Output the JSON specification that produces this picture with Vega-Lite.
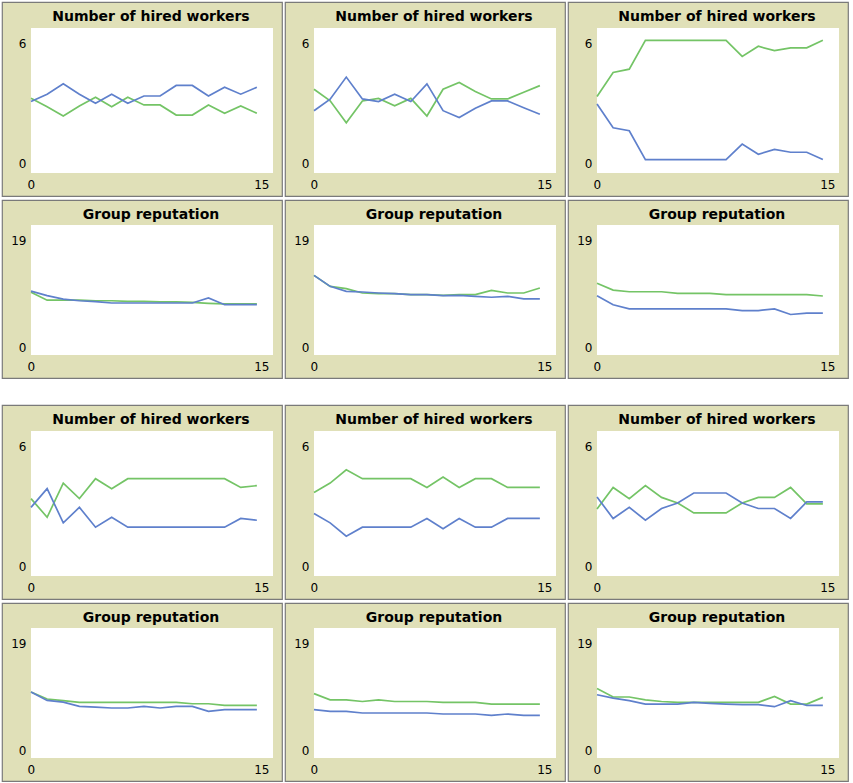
{
"$schema":"https://vega.github.io/schema/vega-lite/v6.json",
"background":"white",
"padding":{"left":1,"top":1,"right":0,"bottom":0},
"datasets":{"d":[
{"p":1,"t":0,"b":2.92,"g":3.09},{"p":1,"t":1,"b":3.29,"g":2.66},{"p":1,"t":2,"b":3.81,"g":2.19},{"p":1,"t":3,"b":3.29,"g":2.7},{"p":1,"t":4,"b":2.83,"g":3.14},{"p":1,"t":5,"b":3.29,"g":2.66},{"p":1,"t":6,"b":2.83,"g":3.14},{"p":1,"t":7,"b":3.2,"g":2.75},{"p":1,"t":8,"b":3.2,"g":2.75},{"p":1,"t":9,"b":3.73,"g":2.24},{"p":1,"t":10,"b":3.73,"g":2.24},{"p":1,"t":11,"b":3.2,"g":2.75},{"p":1,"t":12,"b":3.64,"g":2.33},{"p":1,"t":13,"b":3.29,"g":2.7},{"p":1,"t":14,"b":3.64,"g":2.33},
{"p":2,"t":0,"b":2.46,"g":3.54},{"p":2,"t":1,"b":3.04,"g":2.96},{"p":2,"t":2,"b":4.15,"g":1.85},{"p":2,"t":3,"b":3.05,"g":2.95},{"p":2,"t":4,"b":2.92,"g":3.08},{"p":2,"t":5,"b":3.29,"g":2.71},{"p":2,"t":6,"b":2.92,"g":3.08},{"p":2,"t":7,"b":3.81,"g":2.19},{"p":2,"t":8,"b":2.46,"g":3.54},{"p":2,"t":9,"b":2.12,"g":3.88},{"p":2,"t":10,"b":2.58,"g":3.42},{"p":2,"t":11,"b":2.95,"g":3.05},{"p":2,"t":12,"b":2.95,"g":3.05},{"p":2,"t":13,"b":2.61,"g":3.39},{"p":2,"t":14,"b":2.28,"g":3.72},
{"p":3,"t":0,"b":2.8,"g":3.17},{"p":3,"t":1,"b":1.6,"g":4.38},{"p":3,"t":2,"b":1.45,"g":4.55},{"p":3,"t":3,"b":0,"g":6},{"p":3,"t":4,"b":0,"g":6},{"p":3,"t":5,"b":0,"g":6},{"p":3,"t":6,"b":0,"g":6},{"p":3,"t":7,"b":0,"g":6},{"p":3,"t":8,"b":0,"g":6},{"p":3,"t":9,"b":0.78,"g":5.19},{"p":3,"t":10,"b":0.27,"g":5.7},{"p":3,"t":11,"b":0.51,"g":5.48},{"p":3,"t":12,"b":0.37,"g":5.62},{"p":3,"t":13,"b":0.37,"g":5.62},{"p":3,"t":14,"b":0,"g":6},
{"p":4,"t":0,"b":9.2,"g":9.0},{"p":4,"t":1,"b":8.4,"g":7.6},{"p":4,"t":2,"b":7.8,"g":7.6},{"p":4,"t":3,"b":7.5,"g":7.6},{"p":4,"t":4,"b":7.35,"g":7.5},{"p":4,"t":5,"b":7.1,"g":7.5},{"p":4,"t":6,"b":7.1,"g":7.4},{"p":4,"t":7,"b":7.1,"g":7.4},{"p":4,"t":8,"b":7.1,"g":7.3},{"p":4,"t":9,"b":7.1,"g":7.3},{"p":4,"t":10,"b":7.1,"g":7.2},{"p":4,"t":11,"b":8.0,"g":7.05},{"p":4,"t":12,"b":6.8,"g":6.95},{"p":4,"t":13,"b":6.8,"g":6.95},{"p":4,"t":14,"b":6.8,"g":6.95},
{"p":5,"t":0,"b":12.0,"g":12.0},{"p":5,"t":1,"b":10.06,"g":10.06},{"p":5,"t":2,"b":9.18,"g":9.65},{"p":5,"t":3,"b":9.06,"g":8.88},{"p":5,"t":4,"b":8.88,"g":8.76},{"p":5,"t":5,"b":8.76,"g":8.76},{"p":5,"t":6,"b":8.59,"g":8.59},{"p":5,"t":7,"b":8.59,"g":8.59},{"p":5,"t":8,"b":8.41,"g":8.47},{"p":5,"t":9,"b":8.47,"g":8.59},{"p":5,"t":10,"b":8.29,"g":8.59},{"p":5,"t":11,"b":8.12,"g":9.35},{"p":5,"t":12,"b":8.29,"g":8.88},{"p":5,"t":13,"b":7.82,"g":8.88},{"p":5,"t":14,"b":7.82,"g":9.76},
{"p":6,"t":0,"b":8.4,"g":10.6},{"p":6,"t":1,"b":6.8,"g":9.4},{"p":6,"t":2,"b":6.06,"g":9.1},{"p":6,"t":3,"b":6.06,"g":9.1},{"p":6,"t":4,"b":6.06,"g":9.1},{"p":6,"t":5,"b":6.06,"g":8.8},{"p":6,"t":6,"b":6.06,"g":8.8},{"p":6,"t":7,"b":6.06,"g":8.8},{"p":6,"t":8,"b":6.06,"g":8.6},{"p":6,"t":9,"b":5.76,"g":8.6},{"p":6,"t":10,"b":5.76,"g":8.6},{"p":6,"t":11,"b":6.06,"g":8.6},{"p":6,"t":12,"b":5.06,"g":8.6},{"p":6,"t":13,"b":5.3,"g":8.6},{"p":6,"t":14,"b":5.3,"g":8.35},
{"p":7,"t":0,"b":2.78,"g":3.22},{"p":7,"t":1,"b":3.72,"g":2.28},{"p":7,"t":2,"b":2.0,"g":4.0},{"p":7,"t":3,"b":2.78,"g":3.22},{"p":7,"t":4,"b":1.78,"g":4.22},{"p":7,"t":5,"b":2.28,"g":3.72},{"p":7,"t":6,"b":1.78,"g":4.22},{"p":7,"t":7,"b":1.78,"g":4.22},{"p":7,"t":8,"b":1.78,"g":4.22},{"p":7,"t":9,"b":1.78,"g":4.22},{"p":7,"t":10,"b":1.78,"g":4.22},{"p":7,"t":11,"b":1.78,"g":4.22},{"p":7,"t":12,"b":1.78,"g":4.22},{"p":7,"t":13,"b":2.22,"g":3.78},{"p":7,"t":14,"b":2.13,"g":3.87},
{"p":8,"t":0,"b":2.47,"g":3.53},{"p":8,"t":1,"b":2.0,"g":4.0},{"p":8,"t":2,"b":1.33,"g":4.67},{"p":8,"t":3,"b":1.78,"g":4.22},{"p":8,"t":4,"b":1.78,"g":4.22},{"p":8,"t":5,"b":1.78,"g":4.22},{"p":8,"t":6,"b":1.78,"g":4.22},{"p":8,"t":7,"b":2.22,"g":3.78},{"p":8,"t":8,"b":1.7,"g":4.3},{"p":8,"t":9,"b":2.22,"g":3.78},{"p":8,"t":10,"b":1.78,"g":4.22},{"p":8,"t":11,"b":1.78,"g":4.22},{"p":8,"t":12,"b":2.22,"g":3.78},{"p":8,"t":13,"b":2.22,"g":3.78},{"p":8,"t":14,"b":2.22,"g":3.78},
{"p":9,"t":0,"b":3.3,"g":2.7},{"p":9,"t":1,"b":2.22,"g":3.78},{"p":9,"t":2,"b":2.78,"g":3.22},{"p":9,"t":3,"b":2.13,"g":3.87},{"p":9,"t":4,"b":2.72,"g":3.28},{"p":9,"t":5,"b":3.0,"g":3.0},{"p":9,"t":6,"b":3.5,"g":2.5},{"p":9,"t":7,"b":3.5,"g":2.5},{"p":9,"t":8,"b":3.5,"g":2.5},{"p":9,"t":9,"b":3.0,"g":3.0},{"p":9,"t":10,"b":2.72,"g":3.28},{"p":9,"t":11,"b":2.72,"g":3.28},{"p":9,"t":12,"b":2.22,"g":3.78},{"p":9,"t":13,"b":3.05,"g":2.95},{"p":9,"t":14,"b":3.05,"g":2.95},
{"p":10,"t":0,"b":9.6,"g":9.6},{"p":10,"t":1,"b":8.1,"g":8.35},{"p":10,"t":2,"b":7.8,"g":8.05},{"p":10,"t":3,"b":7.04,"g":7.75},{"p":10,"t":4,"b":6.9,"g":7.75},{"p":10,"t":5,"b":6.75,"g":7.75},{"p":10,"t":6,"b":6.75,"g":7.75},{"p":10,"t":7,"b":7.04,"g":7.75},{"p":10,"t":8,"b":6.75,"g":7.75},{"p":10,"t":9,"b":7.04,"g":7.75},{"p":10,"t":10,"b":7.04,"g":7.5},{"p":10,"t":11,"b":6.15,"g":7.5},{"p":10,"t":12,"b":6.45,"g":7.2},{"p":10,"t":13,"b":6.45,"g":7.2},{"p":10,"t":14,"b":6.45,"g":7.2},
{"p":11,"t":0,"b":6.45,"g":9.3},{"p":11,"t":1,"b":6.15,"g":8.2},{"p":11,"t":2,"b":6.15,"g":8.2},{"p":11,"t":3,"b":5.86,"g":7.9},{"p":11,"t":4,"b":5.86,"g":8.2},{"p":11,"t":5,"b":5.86,"g":7.9},{"p":11,"t":6,"b":5.86,"g":7.9},{"p":11,"t":7,"b":5.86,"g":7.9},{"p":11,"t":8,"b":5.68,"g":7.75},{"p":11,"t":9,"b":5.68,"g":7.75},{"p":11,"t":10,"b":5.68,"g":7.75},{"p":11,"t":11,"b":5.44,"g":7.45},{"p":11,"t":12,"b":5.68,"g":7.45},{"p":11,"t":13,"b":5.44,"g":7.45},{"p":11,"t":14,"b":5.44,"g":7.45},
{"p":12,"t":0,"b":9.1,"g":10.2},{"p":12,"t":1,"b":8.5,"g":8.7},{"p":12,"t":2,"b":8.05,"g":8.7},{"p":12,"t":3,"b":7.45,"g":8.2},{"p":12,"t":4,"b":7.45,"g":7.9},{"p":12,"t":5,"b":7.45,"g":7.75},{"p":12,"t":6,"b":7.75,"g":7.75},{"p":12,"t":7,"b":7.57,"g":7.75},{"p":12,"t":8,"b":7.45,"g":7.75},{"p":12,"t":9,"b":7.34,"g":7.75},{"p":12,"t":10,"b":7.34,"g":7.75},{"p":12,"t":11,"b":6.98,"g":8.8},{"p":12,"t":12,"b":8.05,"g":7.45},{"p":12,"t":13,"b":7.2,"g":7.45},{"p":12,"t":14,"b":7.2,"g":8.64}
]},
"vconcat":[
{"vconcat":[
 {"hconcat":[
  {"width":280,"height":194,"title":"Number of hired workers","layer":[
   {"data":{"values":[{}]},"mark":{"type":"rect","fill":"white"},"encoding":{"x":{"datum":0,"type":"quantitative","scale":{"domain":[-1.7975,15.558],"nice":false,"zero":false},"axis":{"values":[0,15],"title":null}},"x2":{"datum":15},"y":{"datum":-0.674,"type":"quantitative","scale":{"domain":[-1.831,7.927],"nice":false,"zero":false},"axis":{"values":[0,6],"title":null,"labelOffset":3.5}},"y2":{"datum":6.619}}},
   {"data":{"name":"d"},"transform":[{"filter":"datum.p==1"},{"fold":["g","b"],"as":["s","v"]}],"mark":{"type":"line","strokeWidth":1.7},"encoding":{"x":{"field":"t","type":"quantitative","scale":{"domain":[-1.7975,15.558],"nice":false,"zero":false},"axis":{"values":[0,15],"title":null}},"y":{"field":"v","type":"quantitative","scale":{"domain":[-1.831,7.927],"nice":false,"zero":false},"axis":{"values":[0,6],"title":null,"labelOffset":3.5}},"color":{"field":"s","type":"nominal","scale":{"domain":["g","b"],"range":["#74C466","#5F80CC"]},"legend":null}}}
  ]},
  {"width":280,"height":194,"title":"Number of hired workers","layer":[
   {"data":{"values":[{}]},"mark":{"type":"rect","fill":"white"},"encoding":{"x":{"datum":0,"type":"quantitative","scale":{"domain":[-1.7975,15.558],"nice":false,"zero":false},"axis":{"values":[0,15],"title":null}},"x2":{"datum":15},"y":{"datum":-0.674,"type":"quantitative","scale":{"domain":[-1.831,7.927],"nice":false,"zero":false},"axis":{"values":[0,6],"title":null,"labelOffset":3.5}},"y2":{"datum":6.619}}},
   {"data":{"name":"d"},"transform":[{"filter":"datum.p==2"},{"fold":["g","b"],"as":["s","v"]}],"mark":{"type":"line","strokeWidth":1.7},"encoding":{"x":{"field":"t","type":"quantitative","scale":{"domain":[-1.7975,15.558],"nice":false,"zero":false},"axis":{"values":[0,15],"title":null}},"y":{"field":"v","type":"quantitative","scale":{"domain":[-1.831,7.927],"nice":false,"zero":false},"axis":{"values":[0,6],"title":null,"labelOffset":3.5}},"color":{"field":"s","type":"nominal","scale":{"domain":["g","b"],"range":["#74C466","#5F80CC"]},"legend":null}}}
  ]},
  {"width":280,"height":194,"title":"Number of hired workers","layer":[
   {"data":{"values":[{}]},"mark":{"type":"rect","fill":"white"},"encoding":{"x":{"datum":0,"type":"quantitative","scale":{"domain":[-1.7975,15.558],"nice":false,"zero":false},"axis":{"values":[0,15],"title":null}},"x2":{"datum":15},"y":{"datum":-0.674,"type":"quantitative","scale":{"domain":[-1.831,7.927],"nice":false,"zero":false},"axis":{"values":[0,6],"title":null,"labelOffset":3.5}},"y2":{"datum":6.619}}},
   {"data":{"name":"d"},"transform":[{"filter":"datum.p==3"},{"fold":["g","b"],"as":["s","v"]}],"mark":{"type":"line","strokeWidth":1.7},"encoding":{"x":{"field":"t","type":"quantitative","scale":{"domain":[-1.7975,15.558],"nice":false,"zero":false},"axis":{"values":[0,15],"title":null}},"y":{"field":"v","type":"quantitative","scale":{"domain":[-1.831,7.927],"nice":false,"zero":false},"axis":{"values":[0,6],"title":null,"labelOffset":3.5}},"color":{"field":"s","type":"nominal","scale":{"domain":["g","b"],"range":["#74C466","#5F80CC"]},"legend":null}}}
  ]}
 ],"spacing":1},
 {"hconcat":[
  {"width":280,"height":178,"title":"Group reputation","layer":[
   {"data":{"values":[{}]},"mark":{"type":"rect","fill":"white"},"encoding":{"x":{"datum":0,"type":"quantitative","scale":{"domain":[-1.7975,15.558],"nice":false,"zero":false},"axis":{"values":[0,15],"title":null}},"x2":{"datum":15},"y":{"datum":-2.131,"type":"quantitative","scale":{"domain":[-6.215,25.392],"nice":false,"zero":false},"axis":{"values":[0,19],"title":null,"labelOffset":5}},"y2":{"datum":20.953}}},
   {"data":{"name":"d"},"transform":[{"filter":"datum.p==4"},{"fold":["g","b"],"as":["s","v"]}],"mark":{"type":"line","strokeWidth":1.7},"encoding":{"x":{"field":"t","type":"quantitative","scale":{"domain":[-1.7975,15.558],"nice":false,"zero":false},"axis":{"values":[0,15],"title":null}},"y":{"field":"v","type":"quantitative","scale":{"domain":[-6.215,25.392],"nice":false,"zero":false},"axis":{"values":[0,19],"title":null,"labelOffset":5}},"color":{"field":"s","type":"nominal","scale":{"domain":["g","b"],"range":["#74C466","#5F80CC"]},"legend":null}}}
  ]},
  {"width":280,"height":178,"title":"Group reputation","layer":[
   {"data":{"values":[{}]},"mark":{"type":"rect","fill":"white"},"encoding":{"x":{"datum":0,"type":"quantitative","scale":{"domain":[-1.7975,15.558],"nice":false,"zero":false},"axis":{"values":[0,15],"title":null}},"x2":{"datum":15},"y":{"datum":-2.131,"type":"quantitative","scale":{"domain":[-6.215,25.392],"nice":false,"zero":false},"axis":{"values":[0,19],"title":null,"labelOffset":5}},"y2":{"datum":20.953}}},
   {"data":{"name":"d"},"transform":[{"filter":"datum.p==5"},{"fold":["g","b"],"as":["s","v"]}],"mark":{"type":"line","strokeWidth":1.7},"encoding":{"x":{"field":"t","type":"quantitative","scale":{"domain":[-1.7975,15.558],"nice":false,"zero":false},"axis":{"values":[0,15],"title":null}},"y":{"field":"v","type":"quantitative","scale":{"domain":[-6.215,25.392],"nice":false,"zero":false},"axis":{"values":[0,19],"title":null,"labelOffset":5}},"color":{"field":"s","type":"nominal","scale":{"domain":["g","b"],"range":["#74C466","#5F80CC"]},"legend":null}}}
  ]},
  {"width":280,"height":178,"title":"Group reputation","layer":[
   {"data":{"values":[{}]},"mark":{"type":"rect","fill":"white"},"encoding":{"x":{"datum":0,"type":"quantitative","scale":{"domain":[-1.7975,15.558],"nice":false,"zero":false},"axis":{"values":[0,15],"title":null}},"x2":{"datum":15},"y":{"datum":-2.131,"type":"quantitative","scale":{"domain":[-6.215,25.392],"nice":false,"zero":false},"axis":{"values":[0,19],"title":null,"labelOffset":5}},"y2":{"datum":20.953}}},
   {"data":{"name":"d"},"transform":[{"filter":"datum.p==6"},{"fold":["g","b"],"as":["s","v"]}],"mark":{"type":"line","strokeWidth":1.7},"encoding":{"x":{"field":"t","type":"quantitative","scale":{"domain":[-1.7975,15.558],"nice":false,"zero":false},"axis":{"values":[0,15],"title":null}},"y":{"field":"v","type":"quantitative","scale":{"domain":[-6.215,25.392],"nice":false,"zero":false},"axis":{"values":[0,19],"title":null,"labelOffset":5}},"color":{"field":"s","type":"nominal","scale":{"domain":["g","b"],"range":["#74C466","#5F80CC"]},"legend":null}}}
  ]}
 ],"spacing":1}
],"spacing":2},
{"vconcat":[
 {"hconcat":[
  {"width":280,"height":194,"title":"Number of hired workers","layer":[
   {"data":{"values":[{}]},"mark":{"type":"rect","fill":"white"},"encoding":{"x":{"datum":0,"type":"quantitative","scale":{"domain":[-1.7975,15.558],"nice":false,"zero":false},"axis":{"values":[0,15],"title":null}},"x2":{"datum":15},"y":{"datum":-0.674,"type":"quantitative","scale":{"domain":[-1.831,7.927],"nice":false,"zero":false},"axis":{"values":[0,6],"title":null,"labelOffset":3.5}},"y2":{"datum":6.619}}},
   {"data":{"name":"d"},"transform":[{"filter":"datum.p==7"},{"fold":["g","b"],"as":["s","v"]}],"mark":{"type":"line","strokeWidth":1.7},"encoding":{"x":{"field":"t","type":"quantitative","scale":{"domain":[-1.7975,15.558],"nice":false,"zero":false},"axis":{"values":[0,15],"title":null}},"y":{"field":"v","type":"quantitative","scale":{"domain":[-1.831,7.927],"nice":false,"zero":false},"axis":{"values":[0,6],"title":null,"labelOffset":3.5}},"color":{"field":"s","type":"nominal","scale":{"domain":["g","b"],"range":["#74C466","#5F80CC"]},"legend":null}}}
  ]},
  {"width":280,"height":194,"title":"Number of hired workers","layer":[
   {"data":{"values":[{}]},"mark":{"type":"rect","fill":"white"},"encoding":{"x":{"datum":0,"type":"quantitative","scale":{"domain":[-1.7975,15.558],"nice":false,"zero":false},"axis":{"values":[0,15],"title":null}},"x2":{"datum":15},"y":{"datum":-0.674,"type":"quantitative","scale":{"domain":[-1.831,7.927],"nice":false,"zero":false},"axis":{"values":[0,6],"title":null,"labelOffset":3.5}},"y2":{"datum":6.619}}},
   {"data":{"name":"d"},"transform":[{"filter":"datum.p==8"},{"fold":["g","b"],"as":["s","v"]}],"mark":{"type":"line","strokeWidth":1.7},"encoding":{"x":{"field":"t","type":"quantitative","scale":{"domain":[-1.7975,15.558],"nice":false,"zero":false},"axis":{"values":[0,15],"title":null}},"y":{"field":"v","type":"quantitative","scale":{"domain":[-1.831,7.927],"nice":false,"zero":false},"axis":{"values":[0,6],"title":null,"labelOffset":3.5}},"color":{"field":"s","type":"nominal","scale":{"domain":["g","b"],"range":["#74C466","#5F80CC"]},"legend":null}}}
  ]},
  {"width":280,"height":194,"title":"Number of hired workers","layer":[
   {"data":{"values":[{}]},"mark":{"type":"rect","fill":"white"},"encoding":{"x":{"datum":0,"type":"quantitative","scale":{"domain":[-1.7975,15.558],"nice":false,"zero":false},"axis":{"values":[0,15],"title":null}},"x2":{"datum":15},"y":{"datum":-0.674,"type":"quantitative","scale":{"domain":[-1.831,7.927],"nice":false,"zero":false},"axis":{"values":[0,6],"title":null,"labelOffset":3.5}},"y2":{"datum":6.619}}},
   {"data":{"name":"d"},"transform":[{"filter":"datum.p==9"},{"fold":["g","b"],"as":["s","v"]}],"mark":{"type":"line","strokeWidth":1.7},"encoding":{"x":{"field":"t","type":"quantitative","scale":{"domain":[-1.7975,15.558],"nice":false,"zero":false},"axis":{"values":[0,15],"title":null}},"y":{"field":"v","type":"quantitative","scale":{"domain":[-1.831,7.927],"nice":false,"zero":false},"axis":{"values":[0,6],"title":null,"labelOffset":3.5}},"color":{"field":"s","type":"nominal","scale":{"domain":["g","b"],"range":["#74C466","#5F80CC"]},"legend":null}}}
  ]}
 ],"spacing":1},
 {"hconcat":[
  {"width":280,"height":178,"title":"Group reputation","layer":[
   {"data":{"values":[{}]},"mark":{"type":"rect","fill":"white"},"encoding":{"x":{"datum":0,"type":"quantitative","scale":{"domain":[-1.7975,15.558],"nice":false,"zero":false},"axis":{"values":[0,15],"title":null}},"x2":{"datum":15},"y":{"datum":-2.131,"type":"quantitative","scale":{"domain":[-6.215,25.392],"nice":false,"zero":false},"axis":{"values":[0,19],"title":null,"labelOffset":5}},"y2":{"datum":20.953}}},
   {"data":{"name":"d"},"transform":[{"filter":"datum.p==10"},{"fold":["g","b"],"as":["s","v"]}],"mark":{"type":"line","strokeWidth":1.7},"encoding":{"x":{"field":"t","type":"quantitative","scale":{"domain":[-1.7975,15.558],"nice":false,"zero":false},"axis":{"values":[0,15],"title":null}},"y":{"field":"v","type":"quantitative","scale":{"domain":[-6.215,25.392],"nice":false,"zero":false},"axis":{"values":[0,19],"title":null,"labelOffset":5}},"color":{"field":"s","type":"nominal","scale":{"domain":["g","b"],"range":["#74C466","#5F80CC"]},"legend":null}}}
  ]},
  {"width":280,"height":178,"title":"Group reputation","layer":[
   {"data":{"values":[{}]},"mark":{"type":"rect","fill":"white"},"encoding":{"x":{"datum":0,"type":"quantitative","scale":{"domain":[-1.7975,15.558],"nice":false,"zero":false},"axis":{"values":[0,15],"title":null}},"x2":{"datum":15},"y":{"datum":-2.131,"type":"quantitative","scale":{"domain":[-6.215,25.392],"nice":false,"zero":false},"axis":{"values":[0,19],"title":null,"labelOffset":5}},"y2":{"datum":20.953}}},
   {"data":{"name":"d"},"transform":[{"filter":"datum.p==11"},{"fold":["g","b"],"as":["s","v"]}],"mark":{"type":"line","strokeWidth":1.7},"encoding":{"x":{"field":"t","type":"quantitative","scale":{"domain":[-1.7975,15.558],"nice":false,"zero":false},"axis":{"values":[0,15],"title":null}},"y":{"field":"v","type":"quantitative","scale":{"domain":[-6.215,25.392],"nice":false,"zero":false},"axis":{"values":[0,19],"title":null,"labelOffset":5}},"color":{"field":"s","type":"nominal","scale":{"domain":["g","b"],"range":["#74C466","#5F80CC"]},"legend":null}}}
  ]},
  {"width":280,"height":178,"title":"Group reputation","layer":[
   {"data":{"values":[{}]},"mark":{"type":"rect","fill":"white"},"encoding":{"x":{"datum":0,"type":"quantitative","scale":{"domain":[-1.7975,15.558],"nice":false,"zero":false},"axis":{"values":[0,15],"title":null}},"x2":{"datum":15},"y":{"datum":-2.131,"type":"quantitative","scale":{"domain":[-6.215,25.392],"nice":false,"zero":false},"axis":{"values":[0,19],"title":null,"labelOffset":5}},"y2":{"datum":20.953}}},
   {"data":{"name":"d"},"transform":[{"filter":"datum.p==12"},{"fold":["g","b"],"as":["s","v"]}],"mark":{"type":"line","strokeWidth":1.7},"encoding":{"x":{"field":"t","type":"quantitative","scale":{"domain":[-1.7975,15.558],"nice":false,"zero":false},"axis":{"values":[0,15],"title":null}},"y":{"field":"v","type":"quantitative","scale":{"domain":[-6.215,25.392],"nice":false,"zero":false},"axis":{"values":[0,19],"title":null,"labelOffset":5}},"color":{"field":"s","type":"nominal","scale":{"domain":["g","b"],"range":["#74C466","#5F80CC"]},"legend":null}}}
  ]}
 ],"spacing":1}
],"spacing":2}
],
"spacing":25,
"config":{
 "view":{"fill":"#E0E0B8","stroke":"#7A7A7A","strokeWidth":1.2},
 "axis":{"ticks":false,"domain":false,"grid":false,"labelFont":"DejaVu Sans","labelFontSize":12,"labelColor":"#000000"},
 "axisX":{"offset":-23,"labelFlush":false,"labelAlign":{"expr":"datum.value == 0 ? 'left' : 'right'"},"labelOffset":-4,"labelPadding":6},
 "axisY":{"offset":-29,"labelPadding":5},
 "title":{"font":"DejaVu Sans","fontSize":14,"fontWeight":"bold","color":"#000000","offset":-22,"baseline":"alphabetic","dx":9,"anchor":"middle"}
}
}
